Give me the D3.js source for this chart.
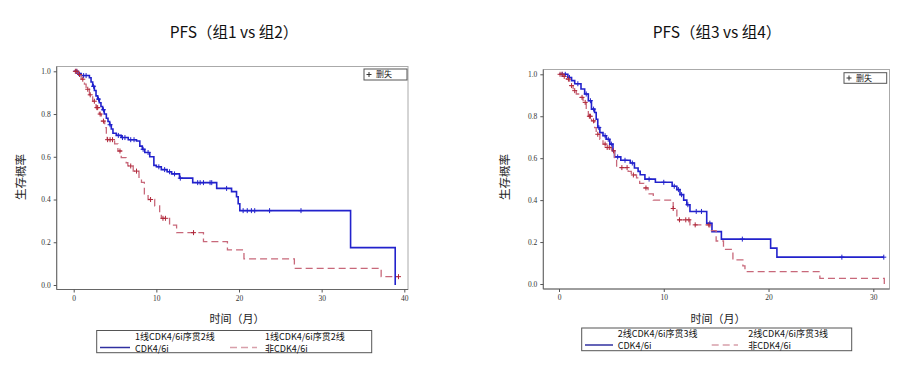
<!DOCTYPE html>
<html>
<head>
<meta charset="utf-8">
<script src="https://cdn.jsdelivr.net/npm/d3@7"></script>
<style>
  body { margin: 0; background: #fff; }
  svg { display: block; font-family: "Noto Sans CJK SC", "Noto Sans", sans-serif; }
  .tick text { font-family: "Liberation Serif", serif; font-size: 7.5px; fill: #333; }
  .tick line { stroke: #555; }
</style>
</head>
<body>
<div id="chart"></div>
<script>
// tick values
const yTicks = [0, 0.2, 0.4, 0.6, 0.8, 1.0];
const xTicksA = [0, 10, 20, 30, 40];
const xTicksB = [0, 10, 20, 30];

// group 1: 1线CDK4/6i序贯2线 CDK4/6i
const g1Time = [0, 0.5, 0.9, 1.9, 2.1, 2.3, 2.5, 2.7, 2.9, 3.1, 3.3, 3.5, 3.7, 3.95, 4.15, 4.35, 4.55, 4.75, 5.15, 5.75,
  6.6, 7.6, 8.0, 8.3, 8.6, 9.2, 9.7, 10.0, 10.6, 11.3, 11.85, 12.8, 14.4, 17.3, 19.1, 19.7, 19.9, 20.1, 33.5, 38.9];
const g1Surv = [1.0, 0.99, 0.98, 0.97, 0.95, 0.93, 0.91, 0.885, 0.87, 0.853, 0.835, 0.82, 0.80, 0.78, 0.765, 0.75, 0.73, 0.71, 0.70, 0.69,
  0.68, 0.674, 0.65, 0.635, 0.62, 0.60, 0.56, 0.553, 0.54, 0.53, 0.52, 0.50, 0.479, 0.452, 0.437, 0.413, 0.38, 0.348, 0.175, 0.0];
const g1Cens = [0.3, 0.6, 1.2, 1.5, 2.4, 3.0, 3.6, 4.4, 5.4, 5.9, 6.2, 6.9, 7.3, 8.4, 9.0, 10.3, 11.0, 11.6, 12.2, 12.9,
  15.0, 15.3, 15.7, 16.5, 16.7, 18.5, 20.5, 21.0, 21.5, 21.9, 23.7, 27.5];

// group 2: 1线CDK4/6i序贯2线 非CDK4/6i
const g2Time = [0, 0.5, 0.9, 1.3, 1.5, 1.9, 2.3, 2.7, 3.1, 3.35, 3.75, 3.95, 4.05, 4.95, 5.35, 5.75, 6.35, 6.55, 7.2, 7.9,
  8.2, 8.55, 9.0, 9.8, 10.4, 10.6, 11.6, 12.45, 15.7, 18.6, 20.6, 26.7, 37.2];
const g2Surv = [1.0, 0.985, 0.963, 0.94, 0.916, 0.89, 0.86, 0.83, 0.80, 0.767, 0.736, 0.70, 0.68, 0.66, 0.627, 0.596, 0.572, 0.557, 0.533, 0.50,
  0.48, 0.426, 0.40, 0.37, 0.343, 0.312, 0.28, 0.245, 0.203, 0.164, 0.122, 0.078, 0.039];
const g2Cens = [0.2, 0.4, 0.7, 1.1, 1.7, 2.0, 2.5, 2.8, 2.9, 3.2, 3.6, 4.1, 4.4, 4.7, 5.6, 6.9, 7.6, 9.3, 10.8, 11.1, 14.5, 39.3];

// group 3: 2线CDK4/6i序贯3线 CDK4/6i
const g3Time = [0, 0.85, 1.2, 1.5, 2.1, 2.45, 2.8, 3.1, 3.4, 3.55, 3.7, 3.9, 4.2, 4.5, 4.85, 5.15, 5.3, 5.9, 6.8, 7.2,
  7.55, 7.75, 8.2, 9.2, 10.8, 11.25, 11.55, 11.9, 12.2, 12.5, 14.1, 14.6, 15.5, 20.2, 20.8];
const g3Surv = [1.0, 0.985, 0.97, 0.955, 0.93, 0.906, 0.874, 0.834, 0.818, 0.786, 0.746, 0.722, 0.707, 0.69, 0.667, 0.635, 0.606, 0.59, 0.577, 0.553,
  0.537, 0.521, 0.50, 0.485, 0.466, 0.45, 0.426, 0.40, 0.378, 0.346, 0.29, 0.25, 0.214, 0.171, 0.128];
const g3Cens = [0.3, 0.6, 1.0, 1.8, 2.6, 3.0, 3.3, 3.8, 4.4, 4.7, 5.0, 5.6, 6.3, 7.0, 8.6, 10.0, 11.0, 11.4, 11.7, 12.3,
  13.1, 13.6, 14.4, 17.5, 27.0, 31.0];

// group 4: 2线CDK4/6i序贯3线 非CDK4/6i
const g4Time = [0, 0.45, 0.7, 1.0, 1.35, 1.65, 2.0, 2.3, 2.6, 2.8, 3.1, 3.4, 3.55, 3.9, 4.2, 4.5, 5.0, 5.3, 5.5, 6.6,
  6.9, 7.4, 7.7, 8.1, 8.5, 9.0, 10.9, 11.25, 12.5, 14.4, 15.0, 15.7, 16.6, 17.55, 17.75, 24.9, 31.05];
const g4Surv = [1.0, 0.99, 0.977, 0.946, 0.922, 0.906, 0.89, 0.866, 0.834, 0.80, 0.778, 0.746, 0.714, 0.69, 0.667, 0.651, 0.635, 0.603, 0.555, 0.537,
  0.52, 0.506, 0.48, 0.458, 0.43, 0.40, 0.36, 0.306, 0.282, 0.255, 0.205, 0.165, 0.115, 0.086, 0.059, 0.027, 0];
const g4Cens = [0.1, 0.3, 0.5, 0.9, 1.2, 1.5, 2.2, 2.5, 2.9, 3.0, 3.3, 3.7, 4.4, 4.6, 4.8, 5.2, 6.0, 6.5, 7.1, 8.3,
  10.9, 11.5, 12.1, 12.4, 13.0, 14.3];

const BLUE = '#2222cc';
const RED = '#c8687a';
const RED_MARK = '#b0283a';

const svg = d3.select('#chart').append('svg')
    .attr('width', 909)
    .attr('height', 365);

function survAt(times, surv, t) {
  const i = d3.bisectRight(times, t) - 1;
  return surv[Math.max(0, i)];
}

function kmPanel(cfg) {
  const g = svg.append('g');
  const x = d3.scaleLinear().domain(cfg.xDomain).range(cfg.xRange);
  const y = d3.scaleLinear().domain([0, 1]).range(cfg.yRange);

  // title
  g.append('text')
      .attr('x', cfg.titleX)
      .attr('y', 38)
      .attr('text-anchor', 'middle')
      .style('font-size', '15.5px')
      .style('fill', '#111')
      .text(cfg.title);

  // frame
  g.append('rect')
      .attr('x', cfg.frame[0])
      .attr('y', cfg.frame[1])
      .attr('width', cfg.frame[2] - cfg.frame[0])
      .attr('height', cfg.frame[3] - cfg.frame[1])
      .attr('fill', 'none')
      .attr('stroke', '#aaa');
  g.append('path')
      .attr('d', `M${cfg.frame[0]},${cfg.frame[1]}V${cfg.frame[3]}H${cfg.frame[2]}`)
      .attr('fill', 'none')
      .attr('stroke', '#666');

  // axes
  g.append('g')
      .attr('transform', `translate(${cfg.frame[0]},0)`)
      .call(d3.axisLeft(y).tickValues(yTicks).tickFormat(d3.format('.1f')).tickSize(3).tickPadding(3))
      .call(s => s.select('.domain').remove());
  g.append('g')
      .attr('transform', `translate(0,${cfg.frame[3]})`)
      .call(d3.axisBottom(x).tickValues(cfg.xTicks).tickSize(3).tickPadding(3))
      .call(s => s.select('.domain').remove());

  // axis labels
  g.append('text')
      .attr('transform', `translate(${cfg.yLabelX},177) rotate(-90)`)
      .attr('text-anchor', 'middle')
      .attr('dy', '0.35em')
      .style('font-size', '11.5px')
      .style('fill', '#222')
      .text('生存概率');
  g.append('text')
      .attr('x', cfg.xLabelX)
      .attr('y', 323)
      .attr('text-anchor', 'middle')
      .style('font-size', '11px')
      .style('fill', '#222')
      .text('时间（月）');

  // curves
  const line = d3.line()
      .curve(d3.curveStepAfter)
      .x(d => x(d[0]))
      .y(d => y(d[1]));

  cfg.series.forEach(s => {
    const pts = s.time.map((t, i) => [t, s.surv[i]]);
    const tEnd = d3.max([d3.max(s.time), d3.max(s.cens)]);
    pts.push([tEnd, s.surv[s.surv.length - 1]]);
    g.append('path')
        .datum(pts)
        .attr('d', line)
        .attr('fill', 'none')
        .attr('stroke', s.color)
        .attr('stroke-width', s.dash ? 1.3 : 1.6)
        .attr('stroke-dasharray', s.dash || null);

    const marks = g.append('g');
    s.cens.forEach(t => {
      const cx = x(t);
      const cy = y(survAt(s.time, s.surv, t));
      marks.append('path')
          .attr('d', `M${cx - 2.5},${cy}H${cx + 2.5}M${cx},${cy - 2.5}V${cy + 2.5}`)
          .attr('stroke', s.mark)
          .attr('stroke-width', 1);
    });
  });

  // censor legend
  const cl = cfg.censorBox;
  g.append('rect')
      .attr('x', cl[0]).attr('y', cl[1])
      .attr('width', cl[2] - cl[0]).attr('height', cl[3] - cl[1])
      .attr('fill', '#fff').attr('stroke', '#555');
  const mx = cl[0] + 5;
  const my = (cl[1] + cl[3]) / 2;
  g.append('path')
      .attr('d', `M${mx - 2.5},${my}H${mx + 2.5}M${mx},${my - 2.5}V${my + 2.5}`)
      .attr('stroke', '#333');
  g.append('text')
      .attr('x', cl[0] + 12)
      .attr('y', my)
      .attr('dy', '0.35em')
      .style('font-size', '8px')
      .style('fill', '#222')
      .text('删失');

  // bottom legend
  const lb = cfg.legendBox;
  g.append('rect')
      .attr('x', lb[0]).attr('y', lb[1])
      .attr('width', lb[2] - lb[0]).attr('height', lb[3] - lb[1])
      .attr('fill', '#fff').attr('stroke', '#555');
  cfg.series.forEach((s, i) => {
    const ent = cfg.legendItems[i];
    g.append('line')
        .attr('x1', ent.x1).attr('x2', ent.x2)
        .attr('y1', lb[1] + 17).attr('y2', lb[1] + 17)
        .attr('stroke', s.dash ? '#d8a0aa' : '#3030a0')
        .attr('stroke-width', 1.5)
        .attr('stroke-dasharray', s.dash || null);
    g.append('text')
        .attr('x', ent.tx)
        .attr('y', lb[1] + 9)
        .style('font-size', '9px')
        .style('fill', '#111')
        .text(s.group);
    g.append('text')
        .attr('x', ent.tx)
        .attr('y', lb[1] + 21)
        .style('font-size', '9px')
        .style('fill', '#111')
        .text(s.label);
  });
}

kmPanel({
  title: 'PFS（组1 vs 组2）',
  titleX: 234,
  xDomain: [0, 40],
  xRange: [73.7, 404.3],
  yRange: [285, 71.3],
  xTicks: xTicksA,
  frame: [56.7, 66.5, 408, 289.5],
  yLabelX: 21,
  xLabelX: 237,
  censorBox: [364, 69, 407, 80],
  legendBox: [96.7, 330.5, 371.7, 352.7],
  legendItems: [{x1: 100, x2: 130, tx: 135}, {x1: 230, x2: 257, tx: 265}],
  series: [
    {time: g1Time, surv: g1Surv, cens: g1Cens, color: BLUE, mark: BLUE, group: '1线CDK4/6i序贯2线', label: 'CDK4/6i'},
    {time: g2Time, surv: g2Surv, cens: g2Cens, color: RED, mark: RED_MARK, dash: '7,4', group: '1线CDK4/6i序贯2线', label: '非CDK4/6i'}
  ]
});

kmPanel({
  title: 'PFS（组3 vs 组4）',
  titleX: 717,
  xDomain: [0, 30],
  xRange: [559, 873.3],
  yRange: [284, 74.3],
  xTicks: xTicksB,
  frame: [543.3, 69.5, 889.5, 289],
  yLabelX: 505,
  xLabelX: 718,
  censorBox: [844, 72.7, 886.7, 83.3],
  legendBox: [581.7, 328, 851.7, 350.7],
  legendItems: [{x1: 585, x2: 613, tx: 617.7}, {x1: 711.7, x2: 738, tx: 748.3}],
  series: [
    {time: g3Time, surv: g3Surv, cens: g3Cens, color: BLUE, mark: BLUE, group: '2线CDK4/6i序贯3线', label: 'CDK4/6i'},
    {time: g4Time, surv: g4Surv, cens: g4Cens, color: RED, mark: RED_MARK, dash: '7,4', group: '2线CDK4/6i序贯3线', label: '非CDK4/6i'}
  ]
});
</script>
</body>
</html>
